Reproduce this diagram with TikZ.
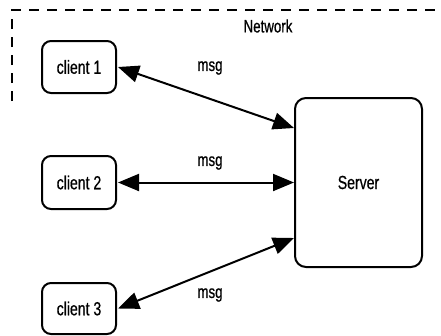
\documentclass[tikz,border=0pt]{standalone}
\usepackage{fontspec}
\setmainfont[FakeStretch=0.74,FakeBold=0.6]{Liberation Sans}
\usetikzlibrary{arrows.meta}
\begin{document}
\begin{tikzpicture}[x=1pt,y=-1pt,
  box/.style={draw,line width=2pt,rounded corners=9pt,inner sep=0pt,font=\fontsize{19}{21}\selectfont},
  link/.style={line width=2pt,{Triangle[length=21pt,width=17pt]}-{Triangle[length=21pt,width=17pt]}},
  lbl/.style={font=\fontsize{18}{20}\selectfont,inner sep=0pt}]
\useasboundingbox (0,0) rectangle (441,335);
\draw[line width=2pt,dash pattern=on 10pt off 8pt] (12,101) -- (12,10) -- (445,10);
\node[lbl] (net) at (268,26) {Network};
\node[box,minimum width=74pt,minimum height=52pt] (c1) at (79,67) {client 1};
\node[box,minimum width=74pt,minimum height=53pt] (c2) at (79,182.5) {client 2};
\node[box,minimum width=74pt,minimum height=51pt] (c3) at (79,308.5) {client 3};
\node[box,rounded corners=11pt,minimum width=127pt,minimum height=169pt] (srv) at (358.5,182.5) {Server};
\coordinate (s1) at (srv.west |- 0,128);
\coordinate (s3) at (srv.west |- 0,238);
\draw[link] ([xshift=1pt]c1.east) -- (s1);
\draw[link] ([xshift=1pt]c2.east) -- (srv.west);
\draw[link] ([xshift=1pt]c3.east) -- (s3);
\node[lbl] (m1) at (210,68) {msg};
\node[lbl] (m2) at (210,163) {msg};
\node[lbl] (m3) at (210,295) {msg};
\end{tikzpicture}
\end{document}
